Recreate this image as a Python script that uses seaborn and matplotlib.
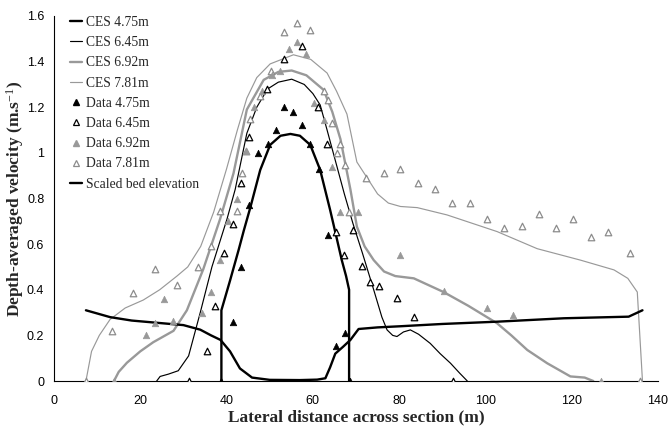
import matplotlib
matplotlib.use("Agg")
import matplotlib.pyplot as plt
import seaborn as sns
from matplotlib.lines import Line2D
from matplotlib.ticker import FuncFormatter

# ---------------- data ----------------
ces475_x = [38.8, 38.8, 40.8, 42.8, 44.0, 45.5, 47.8, 50.1, 52.5, 54.8, 57.0, 59.4, 61.7, 64.0, 65.6, 66.7, 67.7, 68.4, 68.4]
ces475_y = [0.0, 0.31, 0.44, 0.575, 0.66, 0.76, 0.925, 1.035, 1.075, 1.083, 1.075, 1.035, 0.925, 0.75, 0.62, 0.53, 0.46, 0.40, 0.0]

ces645_x = [23.8, 24.6, 26.5, 28.8, 31.2, 33.9, 36.6, 40.1, 42.0, 44.7, 47.0, 49.5, 52.0, 55.1, 58.0, 60.0, 61.7, 63.3, 65.3, 67.3, 69.3, 71.5, 74.1, 76.0, 77.2, 78.5, 79.5, 81.0, 82.6, 84.5, 87.2, 89.5, 91.9, 94.0, 95.8]
ces645_y = [0.0, 0.02, 0.03, 0.045, 0.11, 0.30, 0.50, 0.71, 0.84, 1.086, 1.20, 1.28, 1.31, 1.323, 1.30, 1.26, 1.21, 1.10, 0.96, 0.82, 0.69, 0.56, 0.40, 0.28, 0.224, 0.20, 0.195, 0.215, 0.224, 0.205, 0.165, 0.12, 0.078, 0.035, 0.0]

ces692_x = [13.9, 15.0, 16.9, 20.0, 23.0, 27.7, 30.8, 34.6, 38.5, 41.6, 44.7, 48.6, 52.0, 55.1, 58.5, 62.5, 64.5, 66.4, 68.7, 70.2, 72.0, 74.1, 76.5, 79.1, 83.4, 90.3, 96.0, 102.7, 106.0, 109.7, 114.3, 119.7, 123.0, 125.0]
ces692_y = [0.0, 0.04, 0.08, 0.13, 0.17, 0.22, 0.31, 0.49, 0.71, 0.91, 1.19, 1.32, 1.355, 1.361, 1.34, 1.276, 1.18, 1.06, 0.84, 0.677, 0.59, 0.53, 0.48, 0.46, 0.45, 0.39, 0.33, 0.253, 0.20, 0.136, 0.078, 0.02, 0.015, 0.0]

ces781_x = [7.4, 8.7, 10.5, 13.0, 16.5, 20.7, 24.5, 28.5, 31.0, 34.0, 37.0, 40.0, 42.5, 44.7, 47.0, 50.1, 55.5, 59.5, 63.3, 65.5, 67.9, 70.2, 72.6, 75.0, 77.5, 80.3, 84.2, 91.1, 102.7, 112.0, 122.0, 129.8, 133.0, 135.2, 136.4]
ces781_y = [0.0, 0.13, 0.20, 0.27, 0.32, 0.355, 0.40, 0.46, 0.50, 0.59, 0.74, 0.93, 1.10, 1.24, 1.33, 1.39, 1.43, 1.41, 1.35, 1.27, 1.17, 0.96, 0.89, 0.82, 0.78, 0.765, 0.76, 0.728, 0.655, 0.58, 0.53, 0.487, 0.45, 0.39, 0.0]

dat475_x = [38.8, 41.4, 43.4, 45.3, 47.4, 49.5, 51.4, 53.4, 55.4, 57.4, 59.4, 61.5, 63.4, 65.4, 67.4, 68.5]
dat475_y = [0.0, 0.26, 0.50, 0.77, 1.00, 1.04, 1.10, 1.20, 1.18, 1.12, 1.04, 0.93, 0.64, 0.155, 0.21, 0.0]

dat645_x = [31.2, 35.4, 37.4, 39.3, 41.4, 43.4, 45.3, 49.3, 53.4, 57.4, 61.3, 63.3, 65.3, 67.3, 69.4, 71.4, 73.3, 75.4, 79.4, 83.4, 92.4]
dat645_y = [0.0, 0.13, 0.33, 0.56, 0.69, 0.87, 1.07, 1.28, 1.41, 1.47, 1.20, 1.04, 0.655, 0.553, 0.66, 0.506, 0.436, 0.418, 0.363, 0.279, 0.0]

dat692_x = [13.9, 21.4, 23.4, 25.4, 27.5, 34.3, 36.4, 38.4, 40.4, 42.4, 44.5, 46.4, 48.3, 50.5, 52.3, 54.4, 56.3, 58.5, 60.3, 62.5, 64.4, 66.4, 70.4, 80.3, 90.3, 100.4, 106.3, 126.9]
dat692_y = [0.0, 0.20, 0.256, 0.36, 0.265, 0.30, 0.39, 0.53, 0.70, 0.80, 1.01, 1.20, 1.27, 1.34, 1.36, 1.455, 1.484, 1.434, 1.22, 1.145, 0.94, 0.743, 0.74, 0.553, 0.396, 0.319, 0.29, 0.0]

dat781_x = [7.4, 13.4, 18.4, 23.4, 28.4, 33.4, 36.4, 38.5, 42.5, 43.5, 44.4, 45.5, 47.8, 50.3, 53.4, 56.3, 59.3, 62.5, 63.4, 64.4, 65.5, 66.4, 67.4, 68.4, 72.4, 76.4, 80.3, 84.4, 88.4, 92.3, 96.4, 100.4, 104.4, 108.4, 112.4, 116.4, 120.3, 124.4, 128.4, 133.4, 135.9]
dat781_y = [0.0, 0.22, 0.385, 0.49, 0.42, 0.50, 0.59, 0.746, 0.746, 0.91, 1.01, 1.15, 1.25, 1.36, 1.53, 1.57, 1.54, 1.27, 1.23, 1.13, 1.00, 1.04, 0.947, 0.74, 0.889, 0.91, 0.93, 0.87, 0.84, 0.78, 0.78, 0.71, 0.67, 0.68, 0.73, 0.67, 0.71, 0.63, 0.655, 0.563, 0.0]

bed_x = [7.4, 13.0, 18.0, 23.4, 30.0, 33.9, 36.4, 38.6, 40.8, 43.1, 45.9, 50.0, 57.0, 61.0, 62.9, 64.0, 65.2, 67.0, 68.7, 70.6, 75.0, 80.3, 90.0, 102.7, 118.2, 133.2, 136.4]
bed_y = [0.31, 0.28, 0.265, 0.256, 0.245, 0.225, 0.20, 0.18, 0.13, 0.055, 0.015, 0.005, 0.004, 0.006, 0.012, 0.06, 0.12, 0.15, 0.18, 0.228, 0.235, 0.24, 0.25, 0.26, 0.275, 0.282, 0.31]

legend_labels = ["CES 4.75m", "CES 6.45m", "CES 6.92m", "CES 7.81m",
                 "Data 4.75m", "Data 6.45m", "Data 6.92m", "Data 7.81m",
                 "Scaled bed elevation"]
x_ticks = [0, 20, 40, 60, 80, 100, 120, 140]
y_ticks = [0, 0.2, 0.4, 0.6, 0.8, 1.0, 1.2, 1.4, 1.6]

# ---------------- style ----------------
sns.set_theme(style="white")
plt.rcParams['font.family'] = ['Liberation Sans', 'DejaVu Sans']
plt.rcParams['mathtext.fontset'] = 'custom'
plt.rcParams['mathtext.rm'] = 'Liberation Serif'
plt.rcParams['mathtext.bf'] = 'Liberation Serif:bold'
plt.rcParams['mathtext.it'] = 'Liberation Serif:italic'

GREY = '#999999'
GREY_OPEN = '#8c8c8c'
THICK = 1.7
THIN = 0.85

fig = plt.figure(figsize=(6.7, 4.28), dpi=100)
ax = fig.add_axes([54/670, 1 - 381/428, (658 - 54)/670, (381 - 16)/428])

# curves
sns.lineplot(x=ces781_x, y=ces781_y, sort=False, estimator=None, color=GREY, lw=THIN, ax=ax, zorder=2)
sns.lineplot(x=ces692_x, y=ces692_y, sort=False, estimator=None, color=GREY, lw=THICK, ax=ax, zorder=2)
sns.lineplot(x=ces645_x, y=ces645_y, sort=False, estimator=None, color='black', lw=THIN, ax=ax, zorder=3)
sns.lineplot(x=ces475_x, y=ces475_y, sort=False, estimator=None, color='black', lw=THICK, ax=ax, zorder=3)
sns.lineplot(x=bed_x, y=bed_y, sort=False, estimator=None, color='black', lw=THICK, ax=ax, zorder=4)

# data points
ms = 22
sns.scatterplot(x=dat781_x, y=dat781_y, marker='^', s=ms, color='white', edgecolor=GREY_OPEN, linewidth=0.9, ax=ax, zorder=5)
sns.scatterplot(x=dat692_x, y=dat692_y, marker='^', s=ms, color=GREY, edgecolor=GREY, linewidth=0.5, ax=ax, zorder=5)
sns.scatterplot(x=dat645_x, y=dat645_y, marker='^', s=ms, color='white', edgecolor='black', linewidth=0.9, ax=ax, zorder=5)
sns.scatterplot(x=dat475_x, y=dat475_y, marker='^', s=ms, color='black', edgecolor='black', linewidth=0.5, ax=ax, zorder=5)

ax.set_xlim(0, 140)
ax.set_ylim(0, 1.6)
ax.set_xticks(x_ticks)
ax.set_yticks(y_ticks)
ax.yaxis.set_major_formatter(FuncFormatter(lambda v, p: f"{v:g}"))
ax.tick_params(axis='both', direction='out', length=4, width=0.8, color='black',
               labelsize=9, labelcolor='black')
ax.tick_params(axis='x', pad=6)
ax.tick_params(axis='y', pad=3)
for s in ['top', 'right']:
    ax.spines[s].set_visible(False)
for s in ['left', 'bottom']:
    ax.spines[s].set_color('black')
    ax.spines[s].set_linewidth(0.8)

ax.set_xlabel("Lateral distance across section (m)", fontfamily='Liberation Serif',
              fontweight='bold', fontsize=12.5, labelpad=2)
ax.set_ylabel("Depth-averaged velocity (m.s$^{-1}$)", fontfamily='Liberation Serif',
              fontweight='bold', fontsize=12.5, labelpad=1)

handles = [
    Line2D([], [], color='black', lw=THICK),
    Line2D([], [], color='black', lw=THIN),
    Line2D([], [], color=GREY, lw=THICK),
    Line2D([], [], color=GREY, lw=THIN),
    Line2D([], [], ls='none', marker='^', ms=4.5, mfc='black', mec='black'),
    Line2D([], [], ls='none', marker='^', ms=4.5, mfc='white', mec='black', mew=0.9),
    Line2D([], [], ls='none', marker='^', ms=4.5, mfc=GREY, mec=GREY),
    Line2D([], [], ls='none', marker='^', ms=4.5, mfc='white', mec=GREY_OPEN, mew=0.9),
    Line2D([], [], color='black', lw=THICK),
]
leg = ax.legend(handles, legend_labels, loc='upper left',
                bbox_to_anchor=((70 - 54) / 604, (381 - 16) / 365),
                frameon=False, borderaxespad=0, borderpad=0,
                handlelength=0.9, handletextpad=0.3, labelspacing=0.53,
                prop={'family': 'Liberation Serif', 'size': 9.8})

fig.savefig("out.png", dpi=100)
